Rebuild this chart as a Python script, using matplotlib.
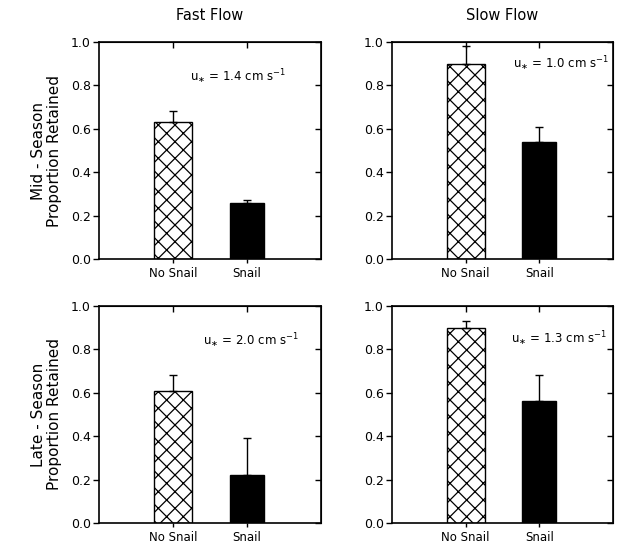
import matplotlib
matplotlib.use("Agg")
import matplotlib.pyplot as plt

categories = ["No Snail", "Snail"]
col_titles = ["Fast Flow", "Slow Flow"]
row_labels = ["Mid - Season\nProportion Retained", "Late - Season\nProportion Retained"]
# [row][col] -> values
means = {
    (0, 0): [0.63, 0.26],
    (0, 1): [0.90, 0.54],
    (1, 0): [0.61, 0.22],
    (1, 1): [0.90, 0.56],
}
err_up = {
    (0, 0): [0.05, 0.01],
    (0, 1): [0.08, 0.07],
    (1, 0): [0.07, 0.17],
    (1, 1): [0.03, 0.12],
}
ustar = {
    (0, 0): "1.4",
    (0, 1): "1.0",
    (1, 0): "2.0",
    (1, 1): "1.3",
}
yticks = [0.0, 0.2, 0.4, 0.6, 0.8, 1.0]

plt.rcParams['font.family'] = ['DejaVu Sans']
plt.rcParams['hatch.linewidth'] = 0.9

W, H = 618, 545
fig = plt.figure(figsize=(W / 100, H / 100), dpi=100)

boxes = {
    (0, 0): (99, 42, 321, 259),
    (0, 1): (392, 42, 613, 259),
    (1, 0): (99, 306, 321, 523),
    (1, 1): (392, 306, 613, 523),
}
text_pos = {
    (0, 0): (0.84, 0.84),
    (0, 1): (0.98, 0.90),
    (1, 0): (0.90, 0.84),
    (1, 1): (0.97, 0.85),
}

for (r, c), (x0, y0, x1, y1) in boxes.items():
    ax = fig.add_axes([x0 / W, 1 - y1 / H, (x1 - x0) / W, (y1 - y0) / H])
    pos = [1, 2]
    vals = means[(r, c)]
    ax.bar(pos[0], vals[0], width=0.52, color="white", edgecolor="black",
           hatch="xx", linewidth=1.0, zorder=2)
    ax.bar(pos[1], vals[1], width=0.46, color="black", edgecolor="black",
           linewidth=1.0, zorder=2)
    ax.errorbar(pos, vals, yerr=[[0, 0], err_up[(r, c)]], fmt="none",
                ecolor="black", elinewidth=1.0, capsize=3, capthick=1.0, zorder=3)
    ax.set_xlim(0, 3)
    ax.set_ylim(0, 1.0)
    ax.set_yticks(yticks)
    ax.set_yticklabels([f"{t:.1f}" for t in yticks], fontsize=9)
    ax.set_xticks(pos)
    ax.set_xticklabels(categories, fontsize=8.5)
    ax.tick_params(axis="y", direction="out", length=4, width=1, pad=2)
    ax.tick_params(axis="x", direction="out", length=3, width=1, pad=3)
    for sp in ax.spines.values():
        sp.set_linewidth(1.2)
    ax2 = ax.secondary_yaxis("right")
    ax2.set_yticks(yticks)
    ax2.set_yticklabels([])
    ax2.tick_params(direction="in", length=4, width=1)
    ax3 = ax.secondary_xaxis("top")
    ax3.set_xticks(pos)
    ax3.set_xticklabels([])
    ax3.tick_params(direction="in", length=4, width=1)
    tx, ty = text_pos[(r, c)]
    ax.text(tx, ty,
            r"u$_{\ast}$ = " + ustar[(r, c)] + r" cm s$^{-1}$",
            transform=ax.transAxes, ha="right", va="center", fontsize=8.5)
    if c == 0:
        ax.set_ylabel(row_labels[r], fontsize=11, labelpad=6, linespacing=1.1)
    if r == 0:
        ax.set_title(col_titles[c], fontsize=10.5, pad=16)

fig.savefig("out.png", dpi=100)
